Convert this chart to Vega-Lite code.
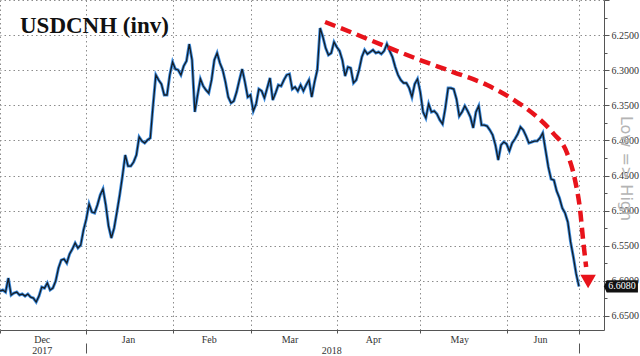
{
"$schema": "https://vega.github.io/schema/vega-lite/v6.json",
"width": 604, "height": 330,
"autosize": {"type": "none"},
"padding": {"left": 0, "top": 0, "right": 36, "bottom": 26},
"background": "white",
"title": {"text": "USDCNH (inv)", "anchor": "start", "frame": "group", "offset": -56, "dx": 20, "baseline": "alphabetic", "font": "Liberation Serif", "fontSize": 23, "fontWeight": "bold", "color": "#111"},
"config": {"view": {"stroke": null}, "axis": {"labelFont": "Liberation Sans Narrow", "labelFontSize": 10, "labelColor": "#333", "gridColor": "#8c8c8c", "gridDash": [1.5, 3], "gridWidth": 1, "domainColor": "#444", "tickColor": "#555"}},
"datasets": {
"px": [
{"d":"2017-12-01","v":6.6145},{"d":"2017-12-02","v":6.6131},{"d":"2017-12-03","v":6.6160},{"d":"2017-12-04","v":6.5960},{"d":"2017-12-05","v":6.6202},{"d":"2017-12-06","v":6.6174},{"d":"2017-12-07","v":6.6160},{"d":"2017-12-08","v":6.6202},{"d":"2017-12-09","v":6.6188},{"d":"2017-12-10","v":6.6217},{"d":"2017-12-11","v":6.6188},{"d":"2017-12-12","v":6.6231},{"d":"2017-12-13","v":6.6245},{"d":"2017-12-14","v":6.6302},{"d":"2017-12-15","v":6.6217},{"d":"2017-12-16","v":6.6088},{"d":"2017-12-17","v":6.6103},{"d":"2017-12-18","v":6.6031},{"d":"2017-12-19","v":6.6131},{"d":"2017-12-20","v":6.6103},{"d":"2017-12-21","v":6.6003},{"d":"2017-12-22","v":6.5818},{"d":"2017-12-23","v":6.5704},{"d":"2017-12-24","v":6.5689},{"d":"2017-12-25","v":6.5746},{"d":"2017-12-26","v":6.5618},{"d":"2017-12-27","v":6.5547},{"d":"2017-12-28","v":6.5461},{"d":"2017-12-29","v":6.5533},{"d":"2017-12-30","v":6.5490},{"d":"2017-12-31","v":6.5276},
{"d":"2018-01-01","v":6.5120},{"d":"2018-01-02","v":6.4906},{"d":"2018-01-03","v":6.5020},{"d":"2018-01-04","v":6.5034},{"d":"2018-01-05","v":6.4920},{"d":"2018-01-06","v":6.4778},{"d":"2018-01-07","v":6.4692},{"d":"2018-01-08","v":6.4920},{"d":"2018-01-09","v":6.5219},{"d":"2018-01-10","v":6.5390},{"d":"2018-01-11","v":6.5248},{"d":"2018-01-12","v":6.5020},{"d":"2018-01-13","v":6.4778},{"d":"2018-01-14","v":6.4507},{"d":"2018-01-15","v":6.4208},{"d":"2018-01-16","v":6.4365},{"d":"2018-01-17","v":6.4365},{"d":"2018-01-18","v":6.4308},{"d":"2018-01-19","v":6.4208},{"d":"2018-01-20","v":6.3952},{"d":"2018-01-21","v":6.4009},{"d":"2018-01-22","v":6.4037},{"d":"2018-01-23","v":6.3994},{"d":"2018-01-24","v":6.3966},{"d":"2018-01-25","v":6.3496},{"d":"2018-01-26","v":6.3068},{"d":"2018-01-27","v":6.3140},{"d":"2018-01-28","v":6.3197},{"d":"2018-01-29","v":6.3353},{"d":"2018-01-30","v":6.3353},{"d":"2018-01-31","v":6.3068},
{"d":"2018-02-01","v":6.2883},{"d":"2018-02-02","v":6.2983},{"d":"2018-02-03","v":6.2997},{"d":"2018-02-04","v":6.3068},{"d":"2018-02-05","v":6.2940},{"d":"2018-02-06","v":6.2869},{"d":"2018-02-07","v":6.2627},{"d":"2018-02-08","v":6.2855},{"d":"2018-02-09","v":6.3595},{"d":"2018-02-10","v":6.3353},{"d":"2018-02-11","v":6.3125},{"d":"2018-02-12","v":6.3225},{"d":"2018-02-13","v":6.3282},{"d":"2018-02-14","v":6.3325},{"d":"2018-02-15","v":6.3140},{"d":"2018-02-16","v":6.2855},{"d":"2018-02-17","v":6.2755},{"d":"2018-02-18","v":6.2897},{"d":"2018-02-19","v":6.2997},{"d":"2018-02-20","v":6.3168},{"d":"2018-02-21","v":6.3382},{"d":"2018-02-22","v":6.3467},{"d":"2018-02-23","v":6.3439},{"d":"2018-02-24","v":6.3311},{"d":"2018-02-25","v":6.3140},{"d":"2018-02-26","v":6.2983},{"d":"2018-02-27","v":6.3168},{"d":"2018-02-28","v":6.3382},
{"d":"2018-03-01","v":6.3353},{"d":"2018-03-02","v":6.3581},{"d":"2018-03-03","v":6.3481},{"d":"2018-03-04","v":6.3268},{"d":"2018-03-05","v":6.3296},{"d":"2018-03-06","v":6.3396},{"d":"2018-03-07","v":6.3254},{"d":"2018-03-08","v":6.3111},{"d":"2018-03-09","v":6.3425},{"d":"2018-03-10","v":6.3325},{"d":"2018-03-11","v":6.3211},{"d":"2018-03-12","v":6.3225},{"d":"2018-03-13","v":6.3140},{"d":"2018-03-14","v":6.3068},{"d":"2018-03-15","v":6.3054},{"d":"2018-03-16","v":6.3268},{"d":"2018-03-17","v":6.3239},{"d":"2018-03-18","v":6.3296},{"d":"2018-03-19","v":6.3211},{"d":"2018-03-20","v":6.3296},{"d":"2018-03-21","v":6.3211},{"d":"2018-03-22","v":6.3140},{"d":"2018-03-23","v":6.3382},{"d":"2018-03-24","v":6.3168},{"d":"2018-03-25","v":6.2997},{"d":"2018-03-26","v":6.2399},{"d":"2018-03-27","v":6.2527},{"d":"2018-03-28","v":6.2684},{"d":"2018-03-29","v":6.2783},{"d":"2018-03-30","v":6.2755},{"d":"2018-03-31","v":6.2598},
{"d":"2018-04-01","v":6.2670},{"d":"2018-04-02","v":6.2726},{"d":"2018-04-03","v":6.2855},{"d":"2018-04-04","v":6.3083},{"d":"2018-04-05","v":6.2954},{"d":"2018-04-06","v":6.2969},{"d":"2018-04-07","v":6.3182},{"d":"2018-04-08","v":6.3140},{"d":"2018-04-09","v":6.2997},{"d":"2018-04-10","v":6.2812},{"d":"2018-04-11","v":6.2712},{"d":"2018-04-12","v":6.2769},{"d":"2018-04-13","v":6.2741},{"d":"2018-04-14","v":6.2712},{"d":"2018-04-15","v":6.2755},{"d":"2018-04-16","v":6.2741},{"d":"2018-04-17","v":6.2769},{"d":"2018-04-18","v":6.2726},{"d":"2018-04-19","v":6.2627},{"d":"2018-04-20","v":6.2726},{"d":"2018-04-21","v":6.2812},{"d":"2018-04-22","v":6.2954},{"d":"2018-04-23","v":6.3068},{"d":"2018-04-24","v":6.3140},{"d":"2018-04-25","v":6.3182},{"d":"2018-04-26","v":6.3182},{"d":"2018-04-27","v":6.3254},{"d":"2018-04-28","v":6.3382},{"d":"2018-04-29","v":6.3197},{"d":"2018-04-30","v":6.3125},
{"d":"2018-05-01","v":6.3311},{"d":"2018-05-02","v":6.3595},{"d":"2018-05-03","v":6.3681},{"d":"2018-05-04","v":6.3481},{"d":"2018-05-05","v":6.3595},{"d":"2018-05-06","v":6.3581},{"d":"2018-05-07","v":6.3624},{"d":"2018-05-08","v":6.3709},{"d":"2018-05-09","v":6.3766},{"d":"2018-05-10","v":6.3538},{"d":"2018-05-11","v":6.3254},{"d":"2018-05-12","v":6.3254},{"d":"2018-05-13","v":6.3268},{"d":"2018-05-14","v":6.3410},{"d":"2018-05-15","v":6.3652},{"d":"2018-05-16","v":6.3595},{"d":"2018-05-17","v":6.3510},{"d":"2018-05-18","v":6.3581},{"d":"2018-05-19","v":6.3667},{"d":"2018-05-20","v":6.3823},{"d":"2018-05-21","v":6.3595},{"d":"2018-05-22","v":6.3510},{"d":"2018-05-23","v":6.3781},{"d":"2018-05-24","v":6.3781},{"d":"2018-05-25","v":6.3795},{"d":"2018-05-26","v":6.3852},{"d":"2018-05-27","v":6.3923},{"d":"2018-05-28","v":6.4066},{"d":"2018-05-29","v":6.4279},{"d":"2018-05-30","v":6.4066},{"d":"2018-05-31","v":6.4023},
{"d":"2018-06-01","v":6.4051},{"d":"2018-06-02","v":6.4151},{"d":"2018-06-03","v":6.4037},{"d":"2018-06-04","v":6.3980},{"d":"2018-06-05","v":6.3909},{"d":"2018-06-06","v":6.3809},{"d":"2018-06-07","v":6.3852},{"d":"2018-06-08","v":6.3937},{"d":"2018-06-09","v":6.4037},{"d":"2018-06-10","v":6.4023},{"d":"2018-06-11","v":6.4009},{"d":"2018-06-12","v":6.4009},{"d":"2018-06-13","v":6.3966},{"d":"2018-06-14","v":6.3895},{"d":"2018-06-15","v":6.4137},{"d":"2018-06-16","v":6.4379},{"d":"2018-06-17","v":6.4550},{"d":"2018-06-18","v":6.4564},{"d":"2018-06-19","v":6.4721},{"d":"2018-06-20","v":6.4821},{"d":"2018-06-21","v":6.4963},{"d":"2018-06-22","v":6.5034},{"d":"2018-06-23","v":6.5162},{"d":"2018-06-24","v":6.5447},{"d":"2018-06-25","v":6.5661},{"d":"2018-06-26","v":6.5900},{"d":"2018-06-27","v":6.6080}
],
"arrow": [
{"d":"2018-03-27T19:00:00Z","v":6.2313},{"d":"2018-04-06T19:00:00Z","v":6.2470},{"d":"2018-04-19T02:00:00Z","v":6.2670},{"d":"2018-04-30T22:00:00Z","v":6.2855},{"d":"2018-05-12T19:00:00Z","v":6.3026},{"d":"2018-05-25T00:00:00Z","v":6.3211},{"d":"2018-06-04T19:00:00Z","v":6.3453},{"d":"2018-06-12T00:00:00Z","v":6.3667},{"d":"2018-06-17T17:00:00Z","v":6.3895},{"d":"2018-06-22T17:00:00Z","v":6.4179},{"d":"2018-06-25T14:00:00Z","v":6.4564},{"d":"2018-06-27T10:00:00Z","v":6.4991},{"d":"2018-06-28T12:00:00Z","v":6.5419},{"d":"2018-06-29T14:00:00Z","v":6.5803}
],
"head": [{"d":"2018-06-30T07:00:00Z","v":6.601}],
"last": [{"d":"2018-06-27","v":6.608,"label":"6.6080"}]
},
"encoding": {
"x": {"field": "d", "type": "temporal",
 "scale": {"type": "utc", "domain": [{"year": 2017, "month": 12, "date": 1, "utc": true}, {"year": 2018, "month": 7, "date": 6, "utc": true}]},
 "axis": {"title": null,
  "values": [{"year":2017,"month":12,"date":1,"utc":true},{"year":2017,"month":12,"date":16,"utc":true},{"year":2018,"month":1,"date":1,"utc":true},{"year":2018,"month":1,"date":16,"utc":true},{"year":2018,"month":2,"date":1,"utc":true},{"year":2018,"month":2,"date":14,"utc":true},{"year":2018,"month":3,"date":1,"utc":true},{"year":2018,"month":3,"date":15,"utc":true},{"year":2018,"month":3,"date":30,"utc":true},{"year":2018,"month":4,"date":1,"utc":true},{"year":2018,"month":4,"date":14,"utc":true},{"year":2018,"month":5,"date":1,"utc":true},{"year":2018,"month":5,"date":15,"utc":true},{"year":2018,"month":6,"date":1,"utc":true},{"year":2018,"month":6,"date":13,"utc":true},{"year":2018,"month":6,"date":27,"utc":true}],
  "labelExpr": "utcdate(datum.value)==1 || utcdate(datum.value)==27 ? '' : (utcmonth(datum.value)==11 ? ['Dec','2017'] : (utcdate(datum.value)==30 ? ['','2018'] : utcFormat(datum.value, '%b')))",
  "labelLineHeight": 11, "labelBaseline": "top", "labelAlign": "center",
  "labelFlush": false, "labelOverlap": false, "labelBound": false,
  "tickSize": 23, "labelPadding": -19,
  "tickDash": {"condition": {"test": "(utcmonth(datum.value)==0 && utcdate(datum.value)==1) || utcdate(datum.value)==27", "value": [4, 9, 10, 40]}, "value": [3, 40]},
  "tickOpacity": {"condition": {"test": "utcdate(datum.value)==1 || utcdate(datum.value)==27", "value": 1}, "value": 0},
  "gridOpacity": {"condition": {"test": "utcdate(datum.value)==1 || utcdate(datum.value)==27", "value": 1}, "value": 0},
  "grid": true, "domainColor": "#555"}},
"y": {"field": "v", "type": "quantitative",
 "scale": {"domain": [6.2, 6.67], "reverse": true, "zero": false, "nice": false},
 "axis": {"orient": "right",
  "values": [6.2, 6.225, 6.25, 6.275, 6.3, 6.325, 6.35, 6.375, 6.4, 6.425, 6.45, 6.475, 6.5, 6.525, 6.55, 6.575, 6.6, 6.625, 6.65],
  "labelExpr": "datum.value < 6.21 ? '' : (abs(datum.value*20 - round(datum.value*20)) < 0.01 ? format(datum.value, '.4f') : '')",
  "tickSize": 5, "labelPadding": 2,
  "tickDash": {"condition": {"test": "abs(datum.value*20 - round(datum.value*20)) < 0.01", "value": [6, 1]}, "value": [3, 10]},
  "gridOpacity": {"condition": {"test": "abs(datum.value*20 - round(datum.value*20)) < 0.01", "value": 1}, "value": 0},
  "grid": true, "domainColor": "#555",
  "title": "Low => High", "titleAngle": 90, "titleX": 21, "titleY": 168, "titleAlign": "center", "titleBaseline": "middle",
  "titleFont": "DejaVu Sans", "titleFontSize": 16, "titleFontWeight": "normal", "titleColor": "#b4b4b4"}}
},
"layer": [
 {"data": {"name": "px"}, "mark": {"type": "line", "color": "#3f8ee0", "strokeWidth": 3}},
 {"data": {"name": "px"}, "mark": {"type": "line", "color": "#111111", "strokeWidth": 1.3, "opacity": 0.9}},
 {"data": {"name": "arrow"}, "mark": {"type": "line", "color": "#e8131b", "strokeWidth": 4.5, "strokeDash": [11, 6], "interpolate": "monotone", "strokeCap": "butt"}},
 {"data": {"name": "head"}, "mark": {"type": "point", "shape": "triangle-down", "filled": true, "color": "#e8131b", "size": 240, "opacity": 1}},
 {"data": {"name": "last"}, "mark": {"type": "point", "shape": "M-1,0L-0.84,-0.36L1,-0.36L1,0.36L-0.84,0.36Z", "filled": true, "color": "#111", "size": 1156, "xOffset": 42, "opacity": 1}},
 {"data": {"name": "last"}, "mark": {"type": "text", "color": "white", "fontSize": 10, "font": "Liberation Sans Narrow", "xOffset": 43, "align": "center", "baseline": "middle"}, "encoding": {"text": {"field": "label"}}}
]
}
